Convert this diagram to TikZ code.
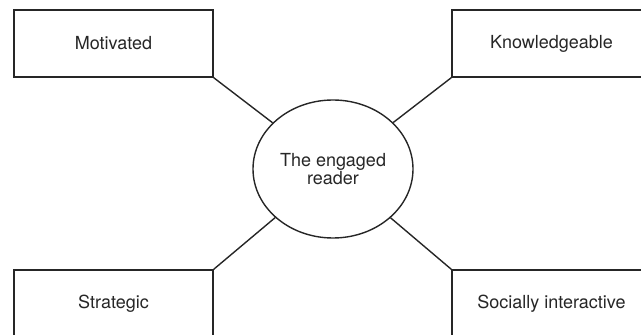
\documentclass[tikz,border=0pt]{standalone}
\usepackage{fontspec}
\setmainfont{TeX Gyre Heros}
\usetikzlibrary{shapes.geometric}
\begin{document}
\begin{tikzpicture}[x=1pt,y=1pt,
  box/.style={draw=black!85, line width=1.4pt, minimum width=199pt, minimum height=67pt, inner sep=0pt, text=black!85, font=\fontsize{18}{17}\selectfont},
  hub/.style={ellipse, draw=black!85, line width=1.4pt, minimum width=160pt, minimum height=138pt, inner sep=0pt, align=center, text=black!85, font=\fontsize{18}{17}\selectfont},
  link/.style={draw=black!85, line width=1.4pt}]
\useasboundingbox (0,0) rectangle (641,335);
\clip (0,0) rectangle (641,335);
\node[box] (mot) at (113.5,291.5) {Motivated};
\node[box] (kno) at (551.5,291.5) {Knowledgeable};
\node[box] (str) at (113.5,31.5) {Strategic};
\node[box] (soc) at (551.5,31.5) {Socially interactive};
\node[hub] (eng) at (333,166) {The engaged\\reader};
\path[link] (mot.south east) -- (eng);
\path[link] (kno.south west) -- (eng);
\path[link] (str.north east) -- (eng);
\path[link] (soc.north west) -- (eng);
\end{tikzpicture}
\end{document}
